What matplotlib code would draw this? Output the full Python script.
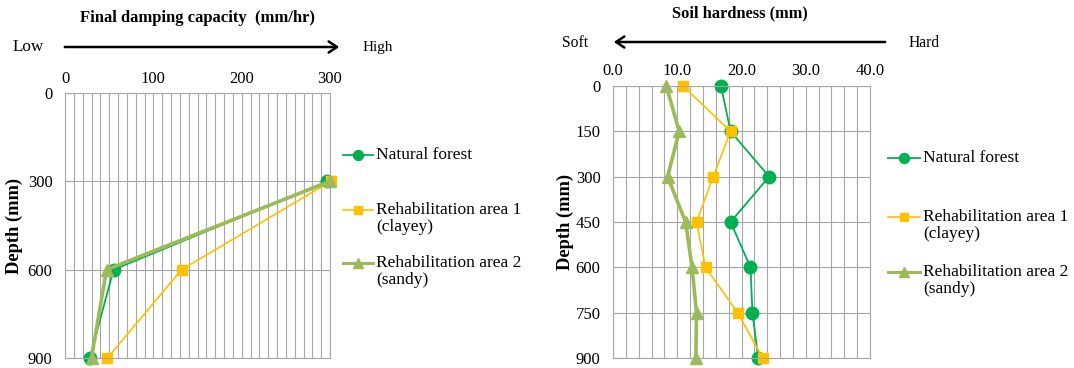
import matplotlib
matplotlib.use('Agg')
import matplotlib.pyplot as plt
from matplotlib.ticker import MultipleLocator

plt.rcParams['font.family'] = ['Liberation Serif', 'DejaVu Serif']

# ---- data ----
series_names = ["Natural forest", "Rehabilitation area 1\n(clayey)", "Rehabilitation area 2\n(sandy)"]

damp_depth = [300, 600, 900]
damp_natural = [297, 55, 28]
damp_rehab1 = [301, 132, 48]
damp_rehab2 = [300, 47, 30]

hard_depth = [0, 150, 300, 450, 600, 750, 900]
hard_natural = [16.8, 18.3, 24.3, 18.3, 21.4, 21.7, 22.6]
hard_rehab1 = [10.9, 18.3, 15.6, 13.0, 14.4, 19.4, 23.3]
hard_rehab2 = [8.3, 10.3, 8.5, 11.3, 12.3, 13.0, 12.9]

# ---- styles ----
styles = [
    dict(color='#00B050', marker='o', lw=1.3, ms=9),
    dict(color='#FFC000', marker='s', lw=1.2, ms=6.5),
    dict(color='#9BBB59', marker='^', lw=2.6, ms=9),
]
GRID = '#A6A6A6'

fig = plt.figure(figsize=(10.74, 3.68), dpi=100)
W, H = 1074.0, 368.0


def make_axes(x0, y0, x1, y1):
    return fig.add_axes([x0 / W, 1 - y1 / H, (x1 - x0) / W, (y1 - y0) / H])


def style_axes(ax, xmax, xmajor, xminor, ymajor, fmt, xpad):
    ax.set_xlim(0, xmax)
    ax.set_ylim(900, 0)
    ax.xaxis.tick_top()
    ax.xaxis.set_major_locator(MultipleLocator(xmajor))
    ax.xaxis.set_minor_locator(MultipleLocator(xminor))
    ax.yaxis.set_major_locator(MultipleLocator(ymajor))
    ax.xaxis.set_major_formatter(fmt)
    ax.grid(which='both', axis='x', color=GRID, lw=0.8)
    ax.grid(which='major', axis='y', color=GRID, lw=0.8)
    ax.tick_params(axis='x', which='both', length=0, pad=xpad, labelsize=12)
    ax.tick_params(axis='y', length=4, direction='in', color=GRID, pad=9, labelsize=12)
    for s in ax.spines.values():
        s.set_color(GRID)
        s.set_linewidth(0.8)
    ax.set_axisbelow(True)
    ax.set_ylabel("Depth (mm)", fontsize=13.3, fontweight='bold')


def draw_legend(x0, x1, ys):
    for (y, name, st) in zip(ys, series_names, styles):
        fig.add_artist(plt.Line2D([x0 / W, x1 / W], [1 - y / H, 1 - y / H], color=st['color'], lw=min(st['lw'], 2.2)))
        fig.add_artist(plt.Line2D([(x0 + x1) / 2 / W], [1 - y / H], color=st['color'], marker=st['marker'],
                                  ms=st['ms'] * 0.8, ls='none'))
        fig.text((x1 + 3) / W, 1 - (y - 8) / H, name, fontsize=12.5, va='top', ha='left', linespacing=1.1)


# ---- left: final damping capacity ----
ax1 = make_axes(65, 93, 330, 358)
style_axes(ax1, 300, 100, 10, 300, matplotlib.ticker.FormatStrFormatter('%d'), 4)
for vals, st in zip([damp_natural, damp_rehab1, damp_rehab2], styles):
    ax1.plot(vals, damp_depth, color=st['color'], marker=st['marker'], lw=st['lw'], ms=st['ms'], clip_on=False)
ax1.yaxis.set_label_coords(-0.158, 0.5)

fig.text(197 / W, 1 - 18 / H, "Final damping capacity  (mm/hr)", fontsize=12, fontweight='bold', ha='center', va='center')
fig.text(13 / W, 1 - 47 / H, "Low", fontsize=12.3, ha='left', va='center')
fig.text(363 / W, 1 - 47 / H, "High", fontsize=11, ha='left', va='center')
fig.add_artist(matplotlib.patches.FancyArrowPatch((62 / W, 1 - 47 / H), (342 / W, 1 - 47 / H),
                                                  transform=fig.transFigure, arrowstyle='->,head_length=6,head_width=4',
                                                  color='black', lw=1.8, mutation_scale=1))
draw_legend(343, 373, [155, 210, 263])

# ---- right: soil hardness ----
ax2 = make_axes(613, 86, 870, 358)
style_axes(ax2, 40, 10, 2, 150, matplotlib.ticker.FormatStrFormatter('%.1f'), 5)
for vals, st in zip([hard_natural, hard_rehab1, hard_rehab2], styles):
    ax2.plot(vals, hard_depth, color=st['color'], marker=st['marker'], lw=st['lw'], ms=st['ms'], clip_on=False)
ax2.yaxis.set_label_coords(-0.152, 0.5)

fig.text(740 / W, 1 - 13 / H, "Soil hardness (mm)", fontsize=11.8, fontweight='bold', ha='center', va='center')
fig.text(562 / W, 1 - 43 / H, "Soft", fontsize=11.2, ha='left', va='center')
fig.text(909 / W, 1 - 43 / H, "Hard", fontsize=11.2, ha='left', va='center')
fig.add_artist(matplotlib.patches.FancyArrowPatch((888 / W, 1 - 42 / H), (611 / W, 1 - 42 / H),
                                                  transform=fig.transFigure, arrowstyle='->,head_length=6,head_width=4',
                                                  color='black', lw=1.8, mutation_scale=1))
draw_legend(888, 920, [158, 217, 272])

fig.savefig('out.png', dpi=100)
